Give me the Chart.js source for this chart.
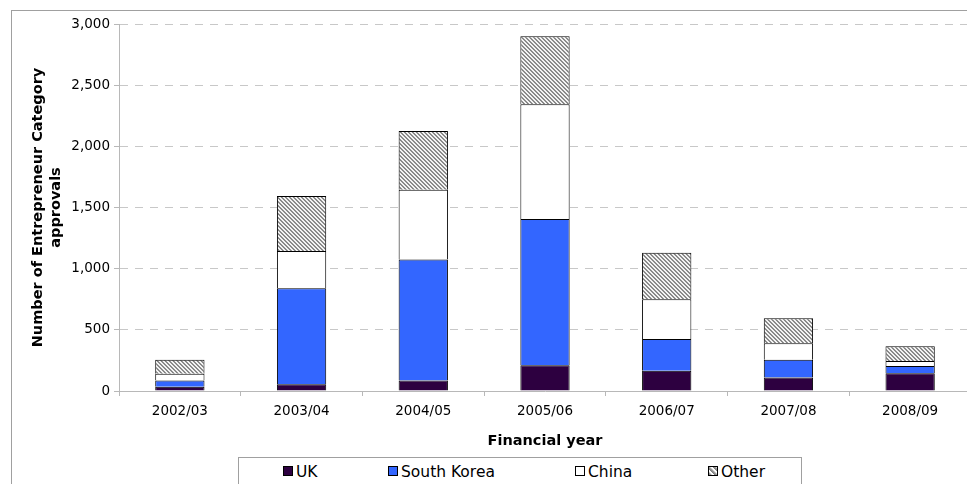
<!DOCTYPE html>
<html>
<head>
<meta charset="utf-8">
<title>Entrepreneur Category approvals</title>
<script src="https://cdn.jsdelivr.net/npm/chart.js@4.4.1/dist/chart.umd.min.js"></script>
<style>
  body { margin: 0; background: #fff; overflow: hidden; font-family: 'DejaVu Sans', Verdana, sans-serif; }
  #wrap { position: relative; width: 967px; height: 484px; overflow: hidden; }
  #chart { position: absolute; left: 0; top: 0; }
  #frame { position: absolute; left: 11px; top: 10px; width: 1000px; height: 600px; border: 1px solid #a0a0a0; pointer-events: none; }
  #legend { position: absolute; left: 238px; top: 457px; width: 562px; height: 60px; border: 1px solid #a0a0a0; background: #fff; }
  .item { position: absolute; top: 4px; font-size: 15.5px; color: #000; white-space: nowrap; line-height: 20px; }
  .swatch { display: inline-block; width: 8px; height: 8px; border: 1px solid #000; margin-right: 3px; vertical-align: 1px; }
</style>
</head>
<body>
<div id="wrap">
  <canvas id="chart" width="980" height="484"></canvas>
  <div id="frame"></div>
  <div id="legend"></div>
</div>
<script>
// Data
const years = ['2002/03', '2003/04', '2004/05', '2005/06', '2006/07', '2007/08', '2008/09'];
const uk = [35, 55, 85, 210, 165, 110, 145];
const southKorea = [50, 785, 990, 1195, 260, 145, 60];
const china = [55, 305, 570, 940, 325, 135, 40];
const other = [115, 450, 480, 555, 380, 205, 120];
const yTicks = [0, 500, 1000, 1500, 2000, 2500, 3000];

// Hatch pattern for "Other"
function makeHatch() {
  let c = document.createElement('canvas');
  c.width = 8; c.height = 8;
  let g = c.getContext('2d');
  let img = g.createImageData(8, 8);
  let shades = [130, 150, 250, 235];
  for (let y = 0; y < 8; y++) {
    for (let x = 0; x < 8; x++) {
      let v = shades[((x - y) % 4 + 4) % 4];
      let i = (y * 8 + x) * 4;
      img.data[i] = v; img.data[i + 1] = v; img.data[i + 2] = v; img.data[i + 3] = 255;
    }
  }
  g.putImageData(img, 0, 0);
  return document.getElementById('chart').getContext('2d').createPattern(c, 'repeat');
}

const series = [
  { label: 'UK', data: uk, color: '#2D0040' },
  { label: 'South Korea', data: southKorea, color: '#3366FF' },
  { label: 'China', data: china, color: '#FFFFFF' },
  { label: 'Other', data: other, color: makeHatch() }
];

const font = { family: "'DejaVu Sans', Verdana, sans-serif" };

new Chart(document.getElementById('chart'), {
  type: 'bar',
  data: {
    labels: years,
    datasets: series.map(s => ({
      label: s.label,
      data: s.data,
      backgroundColor: s.color,
      borderColor: '#000',
      borderWidth: 1,
      barPercentage: 0.405,
      categoryPercentage: 1
    }))
  },
  options: {
    responsive: false,
    animation: false,
    devicePixelRatio: 1,
    layout: { padding: { left: 0, right: 9, top: 24, bottom: 0 } },
    plugins: { legend: { display: false }, tooltip: { enabled: false } },
    scales: {
      x: {
        stacked: true,
        afterFit: s => { s.height = 93; },
        grid: { offset: true, drawOnChartArea: false, drawTicks: true, tickLength: 5, tickColor: '#b8b8b8' },
        border: { color: '#b8b8b8', width: 1 },
        ticks: { color: '#000', padding: 7, font: { ...font, size: 13.5 } },
        title: {
          display: true, text: 'Financial year', color: '#000',
          font: { ...font, size: 14.5, weight: 'bold' }, padding: { top: 0, bottom: 34 }
        }
      },
      y: {
        stacked: true,
        min: 0, max: 3000,
        afterFit: s => { s.width = 119; },
        afterBuildTicks: s => { s.ticks = yTicks.map(v => ({ value: v })); },
        grid: {
          color: c => (c.tick && c.tick.value === 0) ? 'rgba(0,0,0,0)' : '#c8c8c8',
          drawTicks: true, tickLength: 5, tickColor: '#b8b8b8', tickBorderDash: []
        },
        border: { color: '#b8b8b8', width: 1, dash: [8, 7] },
        ticks: {
          color: '#000', padding: 4, font: { ...font, size: 13.5 },
          callback: v => v.toLocaleString('en-US')
        },
        title: {
          display: true, text: ['Number of Entrepreneur Category', 'approvals'], color: '#000',
          font: { ...font, size: 14.5, weight: 'bold', lineHeight: 1.2 }, padding: { top: 30, bottom: 0 }
        }
      }
    }
  }
});

// Legend
let legend = document.getElementById('legend');
let legendX = [44, 149, 336, 469];
series.forEach((s, i) => {
  let item = document.createElement('div');
  item.className = 'item';
  item.style.left = legendX[i] + 'px';
  let sw = document.createElement('span');
  sw.className = 'swatch';
  if (s.label === 'Other') {
    sw.style.background = 'repeating-linear-gradient(45deg, #808080 0px, #999 1.4px, #fff 2.8px, #fff 4.2px)';
  } else {
    sw.style.background = s.color;
  }
  item.appendChild(sw);
  item.appendChild(document.createTextNode(s.label));
  legend.appendChild(item);
});
</script>
</body>
</html>
